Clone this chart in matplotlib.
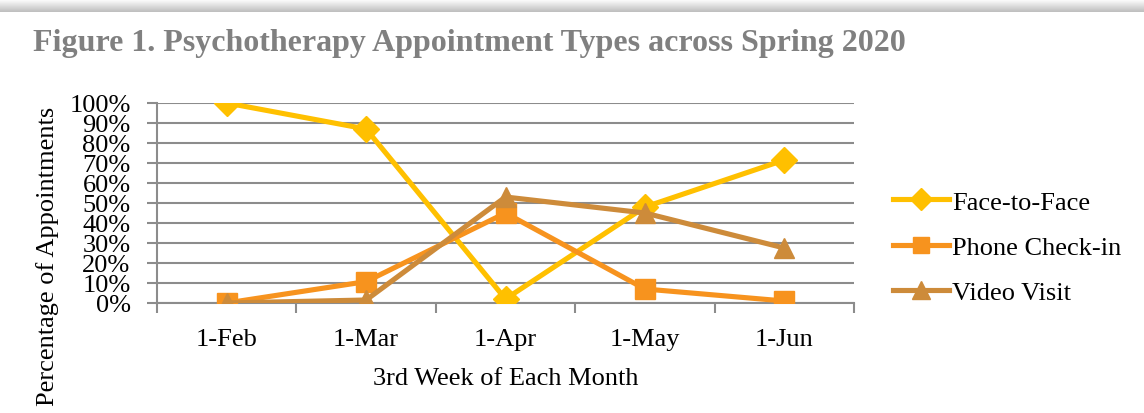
import numpy as np
import matplotlib
matplotlib.use('Agg')
import matplotlib.pyplot as plt
from matplotlib.ticker import FixedLocator, PercentFormatter

# data
months = ['1-Feb', '1-Mar', '1-Apr', '1-May', '1-Jun']
face_to_face = [100, 87, 2, 48, 71.5]
phone_checkin = [0, 10.7, 45, 7, 1]
video_visit = [0, 1.5, 53, 45, 27.5]

series = [
    ('Face-to-Face', face_to_face, '#FFC000', 'D', 13),
    ('Phone Check-in', phone_checkin, '#F7931E', 's', 14),
    ('Video Visit', video_visit, '#CD8B3A', '^', 15),
]

plt.rcParams['font.family'] = ['Liberation Serif', 'DejaVu Serif']

fig = plt.figure(figsize=(11.44, 4.14), dpi=100)

# soft shadow band at the top of the page
shadow = fig.add_axes([0, 1 - 15 / 414, 1, 15 / 414])
grad = np.concatenate([np.linspace(1.0, 0.75, 13), [1.0, 1.0]]).reshape(-1, 1)
shadow.imshow(grad, cmap='gray', vmin=0, vmax=1, aspect='auto', extent=[0, 1, 0, 1],
              interpolation='bilinear')
shadow.axis('off')

fig.text(33 / 1144, 1 - 43 / 414, 'Figure 1. Psychotherapy Appointment Types across Spring 2020',
         fontsize=23, fontweight='bold', color='#808080', va='center', ha='left')

grey = '#8C8C8C'
ax = fig.add_axes([157 / 1144, 1 - 304 / 414, (854 - 157) / 1144, 200 / 414])
x = np.arange(len(months))
for name, vals, col, mk, ms in series:
    ax.plot(x, vals, color=col, lw=3.7, marker=mk, markersize=ms, label=name,
            solid_joinstyle='miter', zorder=3)

ax.set_xlim(-0.5, len(months) - 0.5)
ax.set_ylim(0, 100)
ax.yaxis.set_major_locator(FixedLocator(np.arange(0, 101, 10)))
ax.yaxis.set_major_formatter(PercentFormatter(decimals=0))
ax.set_xticks(x)
ax.set_xticklabels(months)
ax.xaxis.set_minor_locator(FixedLocator(np.arange(-0.5, len(months), 1)))
ax.tick_params(axis='x', which='major', length=0, pad=18, labelsize=19)
ax.tick_params(axis='x', which='minor', length=7, width=1.5, color=grey)
ax.tick_params(axis='y', length=7, width=1.5, color=grey, pad=12, labelsize=19)
ax.grid(axis='y', color=grey, lw=1.5, zorder=0)
for s in ['top', 'right']:
    ax.spines[s].set_visible(False)
for s in ['bottom', 'left']:
    ax.spines[s].set_color(grey)
    ax.spines[s].set_linewidth(1.5)
ax.set_axisbelow(True)
ax.set_xlabel('3rd Week of Each Month', fontsize=19, labelpad=12)
fig.text(48 / 1144, 1 - 256 / 414, 'Percentage of Appointments', rotation=90,
         fontsize=19, va='center', ha='center')

ax.legend(loc='center left', bbox_to_anchor=(1.022, 0.28), frameon=False, fontsize=19,
          handlelength=2.1, labelspacing=0.82, handletextpad=0.15, markerscale=0.85)

fig.savefig('out.png', dpi=100)
